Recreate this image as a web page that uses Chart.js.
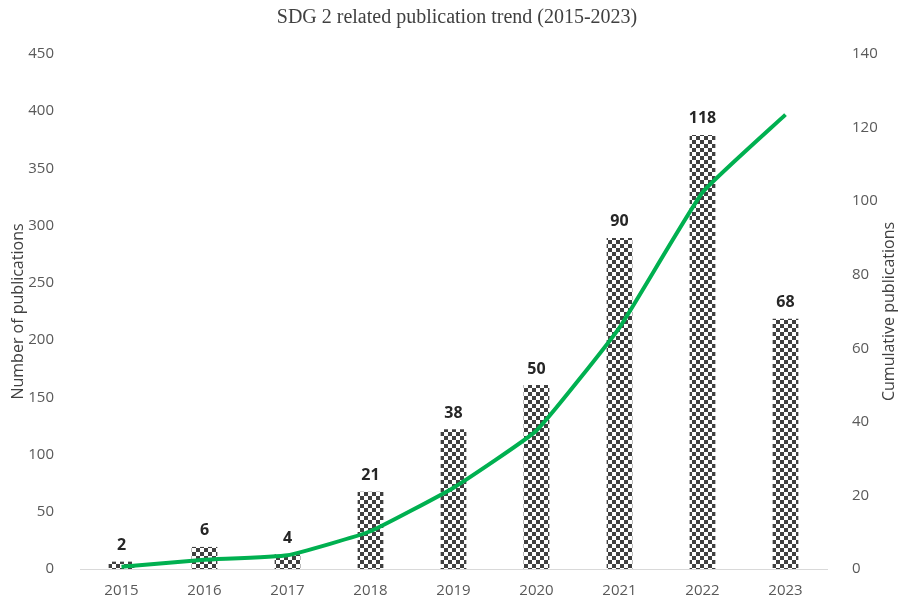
<!DOCTYPE html>
<html>
<head>
<meta charset="utf-8">
<script src="https://cdn.jsdelivr.net/npm/chart.js@4"></script>
<style>
  html, body { margin: 0; padding: 0; background: #fff; }
  #wrap { width: 899px; height: 601px; }
</style>
</head>
<body>
<div id="wrap"><canvas id="chart" width="899" height="601"></canvas></div>
<script>
var years = ["2015", "2016", "2017", "2018", "2019", "2020", "2021", "2022", "2023"];
var publications = [2, 6, 4, 21, 38, 50, 90, 118, 68];
var cumulative = [2, 8, 12, 33, 71, 121, 211, 329, 397];

// checkerboard fill for the bars
function checker() {
    var c = document.createElement("canvas");
    c.width = 8;
    c.height = 8;
    var g = c.getContext("2d");
    g.fillStyle = "#ffffff";
    g.fillRect(0, 0, 8, 8);
    g.fillStyle = "#404040";
    g.fillRect(0, 0, 4, 4);
    g.fillRect(4, 4, 4, 4);
    return g.createPattern(c, "repeat");
}

var ctx = document.getElementById("chart").getContext("2d");

// title, value labels above bars, both axis titles (reading bottom to top)
var extras = {
    id: "extras",
    afterDatasetsDraw: function (chart) {
        var meta = chart.getDatasetMeta(1);
        var c = chart.ctx;
        var area = chart.chartArea;
        c.save();
        c.textAlign = "center";
        c.textBaseline = "middle";
        c.font = "20px 'Liberation Serif'";
        c.fillStyle = "#404040";
        c.fillText("SDG 2 related publication trend (2015-2023)", 457, 18);

        c.font = "bold 16px 'Open Sans'";
        c.fillStyle = "#262626";
        c.textBaseline = "bottom";
        meta.data.forEach(function (bar, i) {
            c.fillText(publications[i], bar.x, bar.y - 8);
        });

        var midY = (area.top + area.bottom) / 2;
        c.font = "16px 'Open Sans'";
        c.fillStyle = "#404040";
        c.textBaseline = "middle";
        c.translate(18, midY);
        c.rotate(-Math.PI / 2);
        c.fillText("Number of publications", 0, 0);
        c.rotate(Math.PI / 2);
        c.translate(-18, -midY);
        c.translate(889, midY);
        c.rotate(-Math.PI / 2);
        c.fillText("Cumulative publications", 0, 0);
        c.restore();
    }
};

var tickFont = { family: "'Open Sans'", size: 15 };

var chart = new Chart(ctx, {
    data: {
        labels: years,
        datasets: [
            {
                type: "line",
                label: "Cumulative",
                data: cumulative,
                yAxisID: "y",
                borderColor: "#00b050",
                borderWidth: 4,
                fill: false,
                tension: 0.12,
                pointRadius: 0,
                order: 0
            },
            {
                type: "bar",
                label: "Publications",
                data: publications,
                yAxisID: "y2",
                backgroundColor: checker(),
                categoryPercentage: 1,
                barPercentage: 0.31,
                order: 1
            }
        ]
    },
    options: {
        responsive: false,
        animation: false,
        layout: { padding: { top: 54, right: 0, bottom: 0, left: 0 } },
        plugins: {
            legend: { display: false },
            tooltip: { enabled: false },
            title: { display: false }
        },
        scales: {
            x: {
                grid: { display: false },
                border: { color: "#d9d9d9", width: 1 },
                ticks: { color: "#595959", font: tickFont, padding: 5 },
                afterFit: function (s) { s.height = 32; }
            },
            y: {
                position: "left",
                min: 0,
                max: 450,
                grid: { display: false },
                border: { display: false },
                ticks: { stepSize: 50, color: "#595959", font: tickFont, padding: 18 },
                afterFit: function (s) { s.width = 80; }
            },
            y2: {
                position: "right",
                min: 0,
                max: 140,
                grid: { display: false },
                border: { display: false },
                ticks: { stepSize: 20, color: "#595959", font: tickFont, padding: 17 },
                afterFit: function (s) { s.width = 72; }
            }
        }
    },
    plugins: [extras]
});
</script>
</body>
</html>
